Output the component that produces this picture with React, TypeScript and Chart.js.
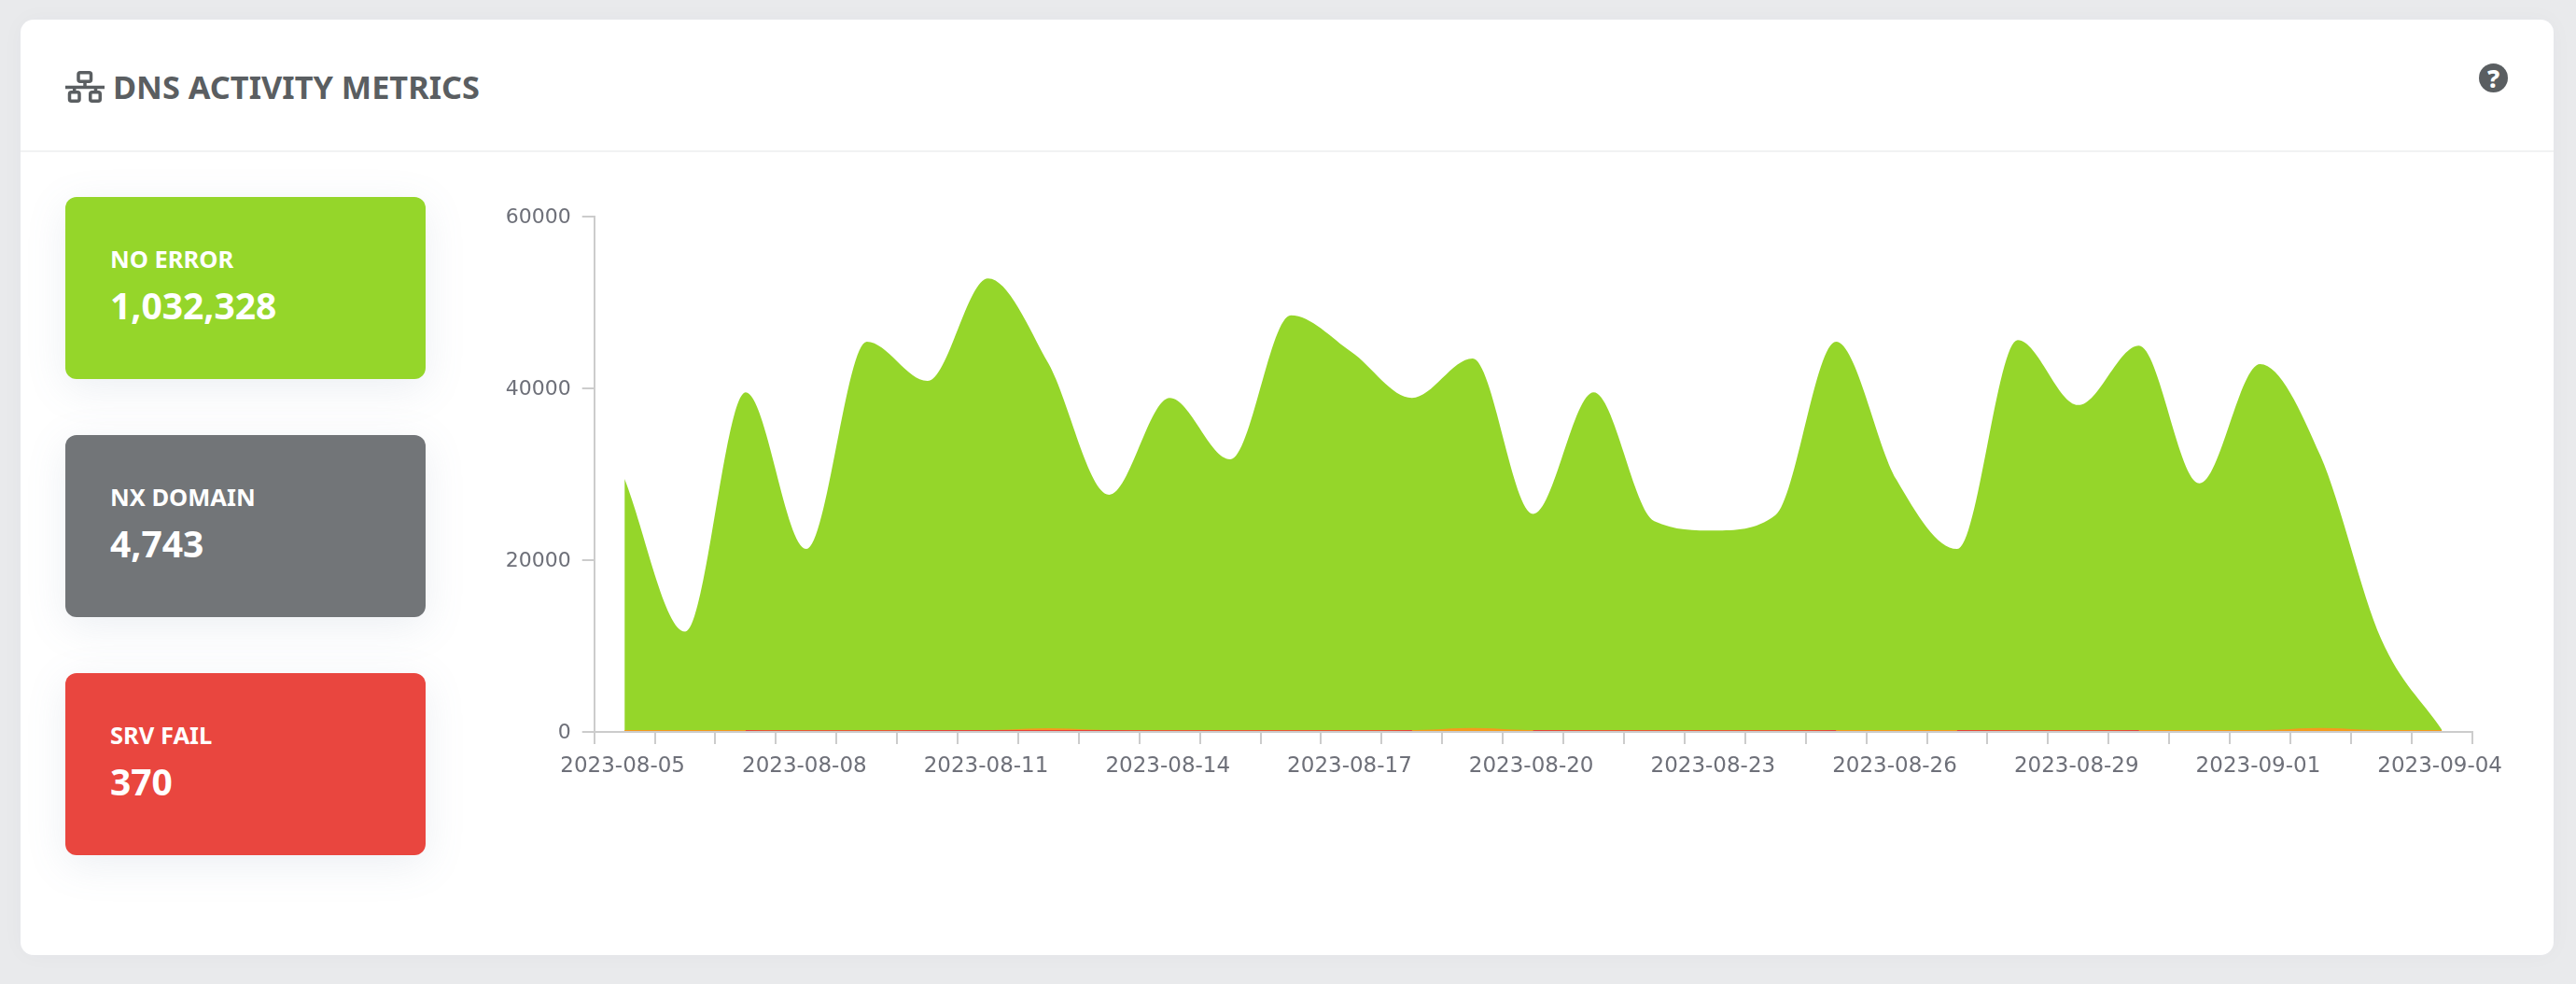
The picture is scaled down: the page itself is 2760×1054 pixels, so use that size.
import React, { useEffect, useRef } from "react";
import Chart from "chart.js/auto";

const categories = [
  "2023-08-05","2023-08-06","2023-08-07","2023-08-08","2023-08-09","2023-08-10","2023-08-11","2023-08-12",
  "2023-08-13","2023-08-14","2023-08-15","2023-08-16","2023-08-17","2023-08-18","2023-08-19","2023-08-20",
  "2023-08-21","2023-08-22","2023-08-23","2023-08-24","2023-08-25","2023-08-26","2023-08-27","2023-08-28",
  "2023-08-29","2023-08-30","2023-08-31","2023-09-01","2023-09-02","2023-09-03","2023-09-04",
];
const noError = [
  29430,11670,39500,21280,45400,40830,52770,42840,27600,38860,31720,48470,44210,38860,43440,25360,
  39500,24530,23430,25220,45400,29340,21280,45590,38030,44950,28930,42800,32090,10800,270,
];
const nxDomain = [
  25,25,25,25,25,25,30,250,30,25,25,25,25,30,260,30,25,25,25,25,25,25,25,25,25,25,25,30,260,30,25,
];
const srvFail = [
  null,null,14,12,12,14,14,16,14,12,12,12,12,14,null,14,12,12,12,12,14,null,14,12,12,14,null,null,null,null,null,
];
const yTicks = [0, 20000, 40000, 60000];
const kpiLabels = ["NO ERROR", "NX DOMAIN", "SRV FAIL"];
const kpiValues = ["1,032,328", "4,743", "370"];
const kpiColors = ["#95d62a", "#727578", "#e9463f"];
const kpiTops = [211, 466, 721];
const titleText = "DNS ACTIVITY METRICS";

const UI_FONT = '"Noto Sans", "Open Sans", sans-serif';
const INK = "#5a5e61";
const abs = (left: number, top: number, width: number, height: number): React.CSSProperties => ({
  position: "absolute", left, top, width, height,
});

export default function App() {
  const ref = useRef<HTMLCanvasElement>(null);
  useEffect(() => {
    const family = '"DejaVu Sans", sans-serif';
    const chart = new Chart(ref.current!, {
      type: "line",
      data: {
        labels: categories,
        datasets: [
          { label: "SRV FAIL", data: srvFail, borderColor: "#e8413c", backgroundColor: "#e8413c", borderWidth: 3.5, fill: false, spanGaps: false, cubicInterpolationMode: "monotone", pointRadius: 0 },
          { label: "NX DOMAIN", data: nxDomain, borderColor: "#f59a1e", backgroundColor: "#f58320", borderWidth: 3.5, fill: "origin", cubicInterpolationMode: "monotone", pointRadius: 0 },
          { label: "NO ERROR", data: noError, borderColor: "#95d62a", backgroundColor: "#95d62a", borderWidth: 0, fill: "origin", cubicInterpolationMode: "monotone", pointRadius: 0 },
        ],
      } as any,
      options: {
        animation: false,
        responsive: false,
        devicePixelRatio: 1,
        layout: { padding: { top: 41.6, right: 71.4, bottom: 0, left: 0 } },
        plugins: { legend: { display: false }, tooltip: { enabled: false }, title: { display: false } },
        scales: {
          x: {
            type: "category",
            offset: true,
            afterFit: (s: any) => { s.height = 86; },
            grid: { offset: true, drawOnChartArea: false, drawTicks: true, tickLength: 13, color: "#cccccc", lineWidth: 2 },
            border: { color: "#cccccc", width: 2, z: 1 },
            ticks: {
              autoSkip: false, maxRotation: 0, minRotation: 0, padding: 10, labelOffset: -2, color: "#6e7079",
              font: { family, size: 23 },
              callback: (_v: any, i: number) => (i % 3 === 0 ? categories[i] : ""),
            },
          },
          y: {
            min: 0, max: 60000,
            afterFit: (s: any) => { s.width = 136.7; },
            afterBuildTicks: (s: any) => { s.ticks = yTicks.map((value) => ({ value })); },
            grid: { drawOnChartArea: false, drawTicks: true, tickLength: 13, color: "#cccccc", lineWidth: 2 },
            border: { color: "#cccccc", width: 2, z: 1 },
            ticks: { padding: 12, labelOffset: 1.5, color: "#6e7079", font: { family, size: 22 }, callback: (v: any) => String(v) },
          },
        },
      } as any,
    });
    return () => chart.destroy();
  }, []);

  return (
    <div style={{ position: "fixed", left: 0, top: 0, width: 2760, height: 1054, background: "#e9eaec", overflow: "hidden", fontFamily: UI_FONT }}>
      <div style={{ ...abs(22, 21, 2714, 1002), background: "#fff", borderRadius: 14, boxShadow: "0 0 24px rgba(60,70,80,0.03)" }} />
      <div style={{ ...abs(22, 161, 2714, 2), background: "#f1f2f3" }} />

      <svg style={abs(70, 76, 42, 34)} viewBox="0 0 42 34" fill="none" stroke={INK} strokeWidth={3.5}>
        <rect x="14" y="1.75" width="13.5" height="9.5" rx="2" />
        <path d="M21 13V17.5M0 17.5H42M9.7 17.5V21M32.5 17.5V21" />
        <rect x="4.5" y="22.75" width="10.5" height="9.5" rx="2" />
        <rect x="26.75" y="22.75" width="10.5" height="9.5" rx="2" />
      </svg>
      <div style={{ position: "absolute", left: 121, top: 71, fontSize: 34.3, lineHeight: "44px", fontWeight: 700, color: INK, whiteSpace: "nowrap" }}>{titleText}</div>

      <div style={{ ...abs(2656, 68, 31.4, 31.4), borderRadius: "50%", background: INK, color: "#fff", textAlign: "center", fontSize: 27, lineHeight: "31.4px", fontWeight: 800 }}>?</div>

      {kpiLabels.map((label, i) => (
        <div key={label} style={{ ...abs(70, kpiTops[i], 385.5, 195), background: kpiColors[i], borderRadius: 12, boxShadow: "0 10px 44px rgba(110,130,160,0.13)", color: "#fff" }}>
          <div style={{ position: "absolute", left: 48, top: 49, fontSize: 25.5, lineHeight: "34px", fontWeight: 700, whiteSpace: "nowrap" }}>{label}</div>
          <div style={{ position: "absolute", left: 48, top: 91, fontSize: 39, lineHeight: "50px", fontWeight: 700, whiteSpace: "nowrap" }}>{kpiValues[i]}</div>
        </div>
      ))}

      <canvas ref={ref} width={2220} height={680} style={{ ...abs(500, 190, 2220, 680), display: "block" }} />
    </div>
  );
}
